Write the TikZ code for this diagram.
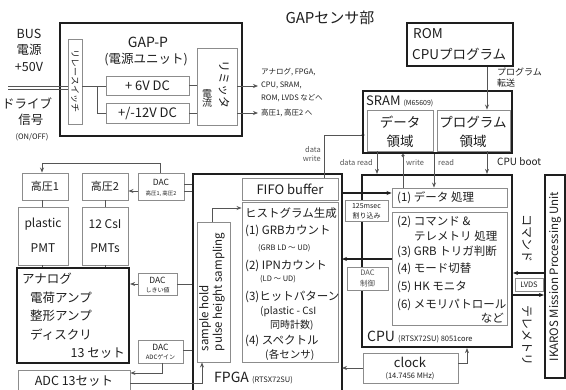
\documentclass[tikz,border=0pt]{standalone}
\usepackage{fontspec}
\setmainfont{Noto Sans CJK JP}
\usetikzlibrary{arrows.meta,fit}
\definecolor{thinc}{RGB}{140,140,140}
\definecolor{wirec}{RGB}{85,85,85}
\definecolor{ink}{RGB}{30,30,30}
\tikzset{
 thinbox/.style={draw=thinc, line width=0.9pt, inner sep=0pt, fill=white},
 thickbox/.style={draw=ink, line width=2.2pt, inner sep=0pt},
 wire/.style={draw=wirec, line width=0.8pt},
 bwire/.style={draw=ink, line width=2pt},
 arr/.style={-{Stealth[length=5pt,width=4pt]}},
 dotend/.style={-{Circle[length=3pt]}},
 lbl/.style={inner sep=0pt, text=ink},
 fs/.style={font=\fontsize{#1}{#1}\selectfont},
}
\newcommand\mkbox[6]{\node[#2, fit={(#3,#4) (#5,#6)}] (#1) {};}
\begin{document}
\begin{tikzpicture}[x=1pt,y=-1pt]
\useasboundingbox (0,0) rectangle (566,389);

% title
\node[lbl, fs=15] (title) at (330,18) {GAPセンサ部};

% BUS power / drive signal
\node[lbl, fs=12.5] (tbus) at (29,34) {BUS};
\node[lbl, fs=12.5] (tden) at (29,50) {電源};
\node[lbl, fs=12.5] (t50) at (29,67) {+50V};
\node[lbl, fs=12.5] (tdrv) at (27,103) {ドライブ};
\node[lbl, fs=12.5] (tsig) at (31,120) {信号};
\node[lbl, fs=7.5] (tonoff) at (32,137) {(ON/OFF)};

% GAP-P
\mkbox{gapp}{thickbox}{60}{23}{242}{136}
\mkbox{relay}{thinbox}{68}{39}{82}{124}
\node[lbl, fs=9, rotate=-90] (trelay) at (75,81) {リレースイッチ};
\node[lbl, fs=14] (tgapp) at (148,42) {GAP-P};
\node[lbl, fs=12.5] (tunit) at (146,60) {(電源ユニット)};
\mkbox{p6}{thinbox}{106}{76}{189}{95}
\node[lbl, fs=13] (tp6) at (p6) {+ 6V DC};
\mkbox{p12}{thinbox}{106}{103}{189}{123}
\node[lbl, fs=13] (tp12) at (p12) {+/-12V DC};
\mkbox{lim}{thinbox}{197}{48}{237}{125}
\node[lbl, fs=10, align=center] (tlim1) at (207,98) {電\\[-1pt]流};
\node[lbl, fs=12, rotate=-90] (tlim2) at (224,84) {リミッタ};

\coordinate (in1) at (8,86);
\coordinate (in2) at (8,89);
\draw[wire] (in1) -- (in1 -| relay.west);
\draw[wire] (in2) -- (in2 -| relay.west);
\coordinate (br) at (97,86);
\draw[wire] (relay.east |- br) -- (br -| p6.west);
\draw[wire] (br) |- (p12.west);
\draw[wire] (p6.east) -- (p6.east -| lim.west);
\draw[wire] (p12.east) -- (p12.east -| lim.west);
\coordinate (o1) at (258,86);
\coordinate (o2) at (258,113);
\draw[wire,arr] (lim.east |- o1) -- (o1);
\draw[wire,arr] (lim.east |- o2) -- (o2);
\node[lbl, fs=7.5, anchor=west] (to1) at (261,72) {アナログ, FPGA,};
\node[lbl, fs=7.5, anchor=west] (to2) at (261,85) {CPU, SRAM,};
\node[lbl, fs=7.5, anchor=west] (to3) at (261,98) {ROM, LVDS などへ};
\node[lbl, fs=7.5, anchor=west] (to4) at (261,113) {高圧1, 高圧2 へ};

% ROM
\mkbox{rom}{thickbox}{407}{23}{513}{66}
\node[lbl, fs=13.5, anchor=west] (trom1) at (413,34) {ROM};
\node[lbl, fs=13.5, anchor=west] (trom2) at (412,54) {CPUプログラム};

% SRAM
\mkbox{sram}{thickbox}{363}{91}{512}{153}
\node[lbl, anchor=west] (tsram) at (366,101) {\fontsize{13}{13}\selectfont SRAM \fontsize{7}{7}\selectfont(M65609)};
\mkbox{sdata}{thinbox}{367}{110}{433}{151}
\node[lbl, fs=13.5] (tsd1) at (400,122) {データ};
\node[lbl, fs=13.5] (tsd2) at (400,141) {領域};
\mkbox{sprog}{thinbox}{437}{110}{510}{151}
\node[lbl, fs=13.5] (tsp1) at (473,122) {プログラム};
\node[lbl, fs=13.5] (tsp2) at (473,141) {領域};
\draw[wire,arr] (rom.south -| 487,0) -- (sprog.north -| 487,0);
\node[lbl, fs=9, anchor=west] (tpt1) at (497,72) {プログラム};
\node[lbl, fs=9, anchor=west] (tpt2) at (497,83) {転送};

% CPU
\mkbox{cpu}{thickbox}{362}{175}{512}{347}
\mkbox{c1}{thinbox}{392}{188}{507}{207}
\node[lbl, fs=11.5, anchor=west] (tc1) at (397,198) {(1) データ 処理};
\mkbox{c2}{thinbox}{392}{212}{507}{325}
\node[lbl, fs=11.5, anchor=west] (tc2a) at (397,222) {(2) コマンド \&};
\node[lbl, fs=11.5, anchor=west] (tc2b) at (414,236) {テレメトリ 処理};
\node[lbl, fs=11.5, anchor=west] (tc3) at (397,252) {(3) GRB トリガ判断};
\node[lbl, fs=11.5, anchor=west] (tc4) at (397,269) {(4) モード切替};
\node[lbl, fs=11.5, anchor=west] (tc5) at (397,287) {(5) HK モニタ};
\node[lbl, fs=11.5, anchor=west] (tc6) at (397,305) {(6) メモリパトロール};
\node[lbl, fs=11.5, anchor=east] (tc7) at (504,318) {など};
\node[lbl, anchor=west] (tcpu) at (367,337) {\fontsize{14}{14}\selectfont CPU \fontsize{7.5}{7.5}\selectfont(RTSX72SU) 8051core};

% SRAM <-> CPU/FPGA wires
\coordinate (dw1) at (363,135);
\coordinate (dw2) at (324,135);
\draw[wire,arr] (sdata.south -| 377,0) -- (cpu.north -| 377,0);
\node[lbl, fs=7.5, anchor=east, text=wirec] (tdr) at (373,163) {data read};
\draw[wire,dotend] (c1.north -| 403,0) -- (sram.south -| 403,0);
\node[lbl, fs=7.5, anchor=west, text=wirec] (twr) at (406,163) {write};
\draw[wire,arr] (sram.south -| 434,0) -- (c1.north -| 434,0);
\node[lbl, fs=7.5, anchor=west, text=wirec] (trd) at (438,163) {read};
\draw[wire,arr] (sprog.south -| 487,0) -- (cpu.north -| 487,0);
\node[lbl, fs=10, anchor=west] (tboot) at (497,162) {CPU boot};

% FPGA
\mkbox{fpga}{thickbox}{193}{174}{342}{395}
\mkbox{fifo}{thinbox}{242}{178}{338}{200}
\node[lbl, fs=13] (tfifo) at (fifo) {FIFO buffer};
\mkbox{hist}{thinbox}{242}{202}{338}{362}
\node[lbl, fs=11.5, anchor=west] (th0) at (245,213) {ヒストグラム生成};
\node[lbl, fs=11.5, anchor=west] (th1) at (245,231) {(1) GRBカウント};
\node[lbl, fs=7.5, anchor=west] (th1b) at (258,248) {(GRB LD ～ UD)};
\node[lbl, fs=11.5, anchor=west] (th2) at (245,266) {(2) IPNカウント};
\node[lbl, fs=7.5, anchor=west] (th2b) at (260,279) {(LD ～ UD)};
\node[lbl, fs=11.5, anchor=west] (th3) at (245,297) {(3)ヒットパターン};
\node[lbl, fs=10, anchor=west] (th3b) at (260,312) {(plastic - CsI};
\node[lbl, fs=10, anchor=west] (th3c) at (270,325) {同時計数)};
\node[lbl, fs=11.5, anchor=west] (th4) at (245,341) {(4) スペクトル};
\node[lbl, fs=10.5, anchor=west] (th4b) at (265,355) {(各センサ)};
\mkbox{samp}{thinbox}{197}{222}{230}{362}
\node[lbl, rotate=90, align=left, font=\fontsize{11.5}{13.5}\selectfont] (tsamp) at (212,292) {sample hold\\pulse height sampling};
\node[lbl, anchor=west] (tfpga) at (214,378) {\fontsize{14}{14}\selectfont FPGA \fontsize{7.5}{7.5}\selectfont(RTSX72SU)};
\coordinate (sh1) at (212,208);
\draw[wire,arr] (samp.north -| sh1) -- (sh1) -- (sh1 -| hist.west);

% data write from FIFO to SRAM
\draw[wire] (fifo.north -| dw2) -- (dw2) -- (dw1);
\fill[ink] (dw1) circle (1.6pt);
\node[lbl, fs=7.5, anchor=east, text=wirec] (tdw1) at (321,150) {data};
\node[lbl, fs=7.5, anchor=east, text=wirec] (tdw2) at (321,159) {write};

% buses between FPGA and CPU
\coordinate (b1) at (342,193);
\coordinate (b2) at (342,259);
\draw[bwire,arr] (b1) -- (b1 -| c1.west);
\draw[bwire,arr] (b2 -| c2.west) -- (b2);
\mkbox{irq}{thinbox}{345}{200}{388}{221}
\node[lbl, fs=7] (tirq1) at (366.5,206) {125msec};
\node[lbl, fs=7] (tirq2) at (366.5,216) {割り込み};
\mkbox{dacc}{thinbox}{347}{267}{388}{290}
\node[lbl, fs=7.5, text=wirec] (tdacc1) at (367.5,273) {DAC};
\node[lbl, fs=7.5, text=wirec] (tdacc2) at (367.5,284) {制御};

% clock
\mkbox{clk}{thinbox}{363}{353}{458}{383}
\node[lbl, fs=13] (tclk1) at (410,362) {clock};
\node[lbl, fs=7.5] (tclk2) at (410,376) {(14.7456 MHz)};
\coordinate (ck1) at (467,363);
\draw[wire,arr] (clk.east |- ck1) -- (ck1) -- (ck1 |- cpu.south);
\coordinate (ck2) at (342,368);
\draw[wire,arr] (clk.west |- ck2) -- (ck2);

% IKAROS
\mkbox{ika}{thickbox}{545}{175}{565}{378}
\node[lbl, fs=11.5, rotate=90] (tika) at (ika) {IKAROS Mission Processing Unit};
\coordinate (cm) at (545,273);
\coordinate (tm) at (512,295);
\draw[draw=ink, line width=1.4pt, arr] (cm) -- (cm -| cpu.east);
\draw[draw=ink, line width=1.4pt, arr] (tm) -- (tm -| ika.west);
\mkbox{lvds}{thinbox}{515}{278}{543}{291}
\node[lbl, fs=7.5] (tlvds) at (lvds) {LVDS};
\node[lbl, fs=12, rotate=-90] (tcmd) at (527,238) {コマンド};
\node[lbl, fs=12, rotate=-90] (ttlm) at (527,335) {テレメトリ};

% left: high voltage, PMTs, analog
\mkbox{hv1}{thinbox}{22}{173}{68}{200}
\node[lbl, fs=11] (thv1) at (hv1) {高圧1};
\mkbox{hv2}{thinbox}{82}{173}{128}{200}
\node[lbl, fs=11] (thv2) at (hv2) {高圧2};
\mkbox{dachv}{thinbox}{138}{173}{184}{200}
\node[lbl, fs=8.5] (tdh1) at (161,182) {DAC};
\node[lbl, fs=5.5] (tdh2) at (161,194) {高圧1, 高圧2};
\coordinate (hvt) at (160,163);
\draw[wire,arr] (dachv.north -| hvt) -- (hvt) -| (hv1.north -| 42,0);
\coordinate (hva) at (138,191);
\draw[wire,arr] (hva) -- (hva -| hv2.east);
\coordinate (hvb) at (184,184);
\draw[wire] (hvb) -- (hvb -| fpga.west);
\draw[wire] (hva -| dachv.east) -- (hva -| fpga.west);

\mkbox{pmt1}{thinbox}{18}{207}{68}{265}
\node[lbl, fs=12] (tpm1a) at (43,224) {plastic};
\node[lbl, fs=12] (tpm1b) at (43,248) {PMT};
\mkbox{pmt2}{thinbox}{82}{207}{128}{265}
\node[lbl, fs=12] (tpm2a) at (105,224) {12 CsI};
\node[lbl, fs=12] (tpm2b) at (105,248) {PMTs};
\mkbox{ana}{thickbox}{17}{268}{129}{363}
\draw[wire] (hv1.south -| 42,0) -- (pmt1.north -| 42,0);
\draw[wire] (hv2.south -| 105,0) -- (pmt2.north -| 105,0);
\draw[wire] (pmt1.south -| 42,0) -- (ana.north -| 42,0);
\draw[wire] (pmt2.south -| 105,0) -- (ana.north -| 105,0);
\node[lbl, fs=12.5, anchor=west] (tan1) at (22,279) {アナログ};
\node[lbl, fs=12.5, anchor=west] (tan2) at (30,298) {電荷アンプ};
\node[lbl, fs=12.5, anchor=west] (tan3) at (30,316) {整形アンプ};
\node[lbl, fs=12.5, anchor=west] (tan4) at (30,335) {ディスクリ};
\node[lbl, fs=12.5, anchor=east] (tan5) at (125,353) {13 セット};

\mkbox{dacth}{thinbox}{138}{273}{177}{295}
\node[lbl, fs=8.5] (tdt1) at (157.5,280) {DAC};
\node[lbl, fs=6] (tdt2) at (157.5,290) {しきい値};
\coordinate (th) at (138,284);
\draw[wire,arr] (th) -- (th -| ana.east);
\draw[wire] (th -| dacth.east) -- (th -| fpga.west);

\mkbox{dacadc}{thinbox}{138}{340}{183}{363}
\node[lbl, fs=8.5] (tda1) at (160.5,347) {DAC};
\node[lbl, fs=6] (tda2) at (160.5,357) {ADCゲイン};
\coordinate (dg) at (183,350);
\draw[wire] (dg) -- (dg -| fpga.west);

\mkbox{adc}{thinbox}{18}{370}{130}{395}
\node[lbl, fs=12.5] (tadc) at (74,381) {ADC 13セット};
\coordinate (da) at (162,373);
\draw[wire,arr] (dacadc.south -| da) -- (da) -- (da -| adc.east);
\coordinate (ad) at (202,383);
\draw[wire,arr] (ad -| adc.east) -- (ad) -- (ad |- samp.south);
\end{tikzpicture}
\end{document}
